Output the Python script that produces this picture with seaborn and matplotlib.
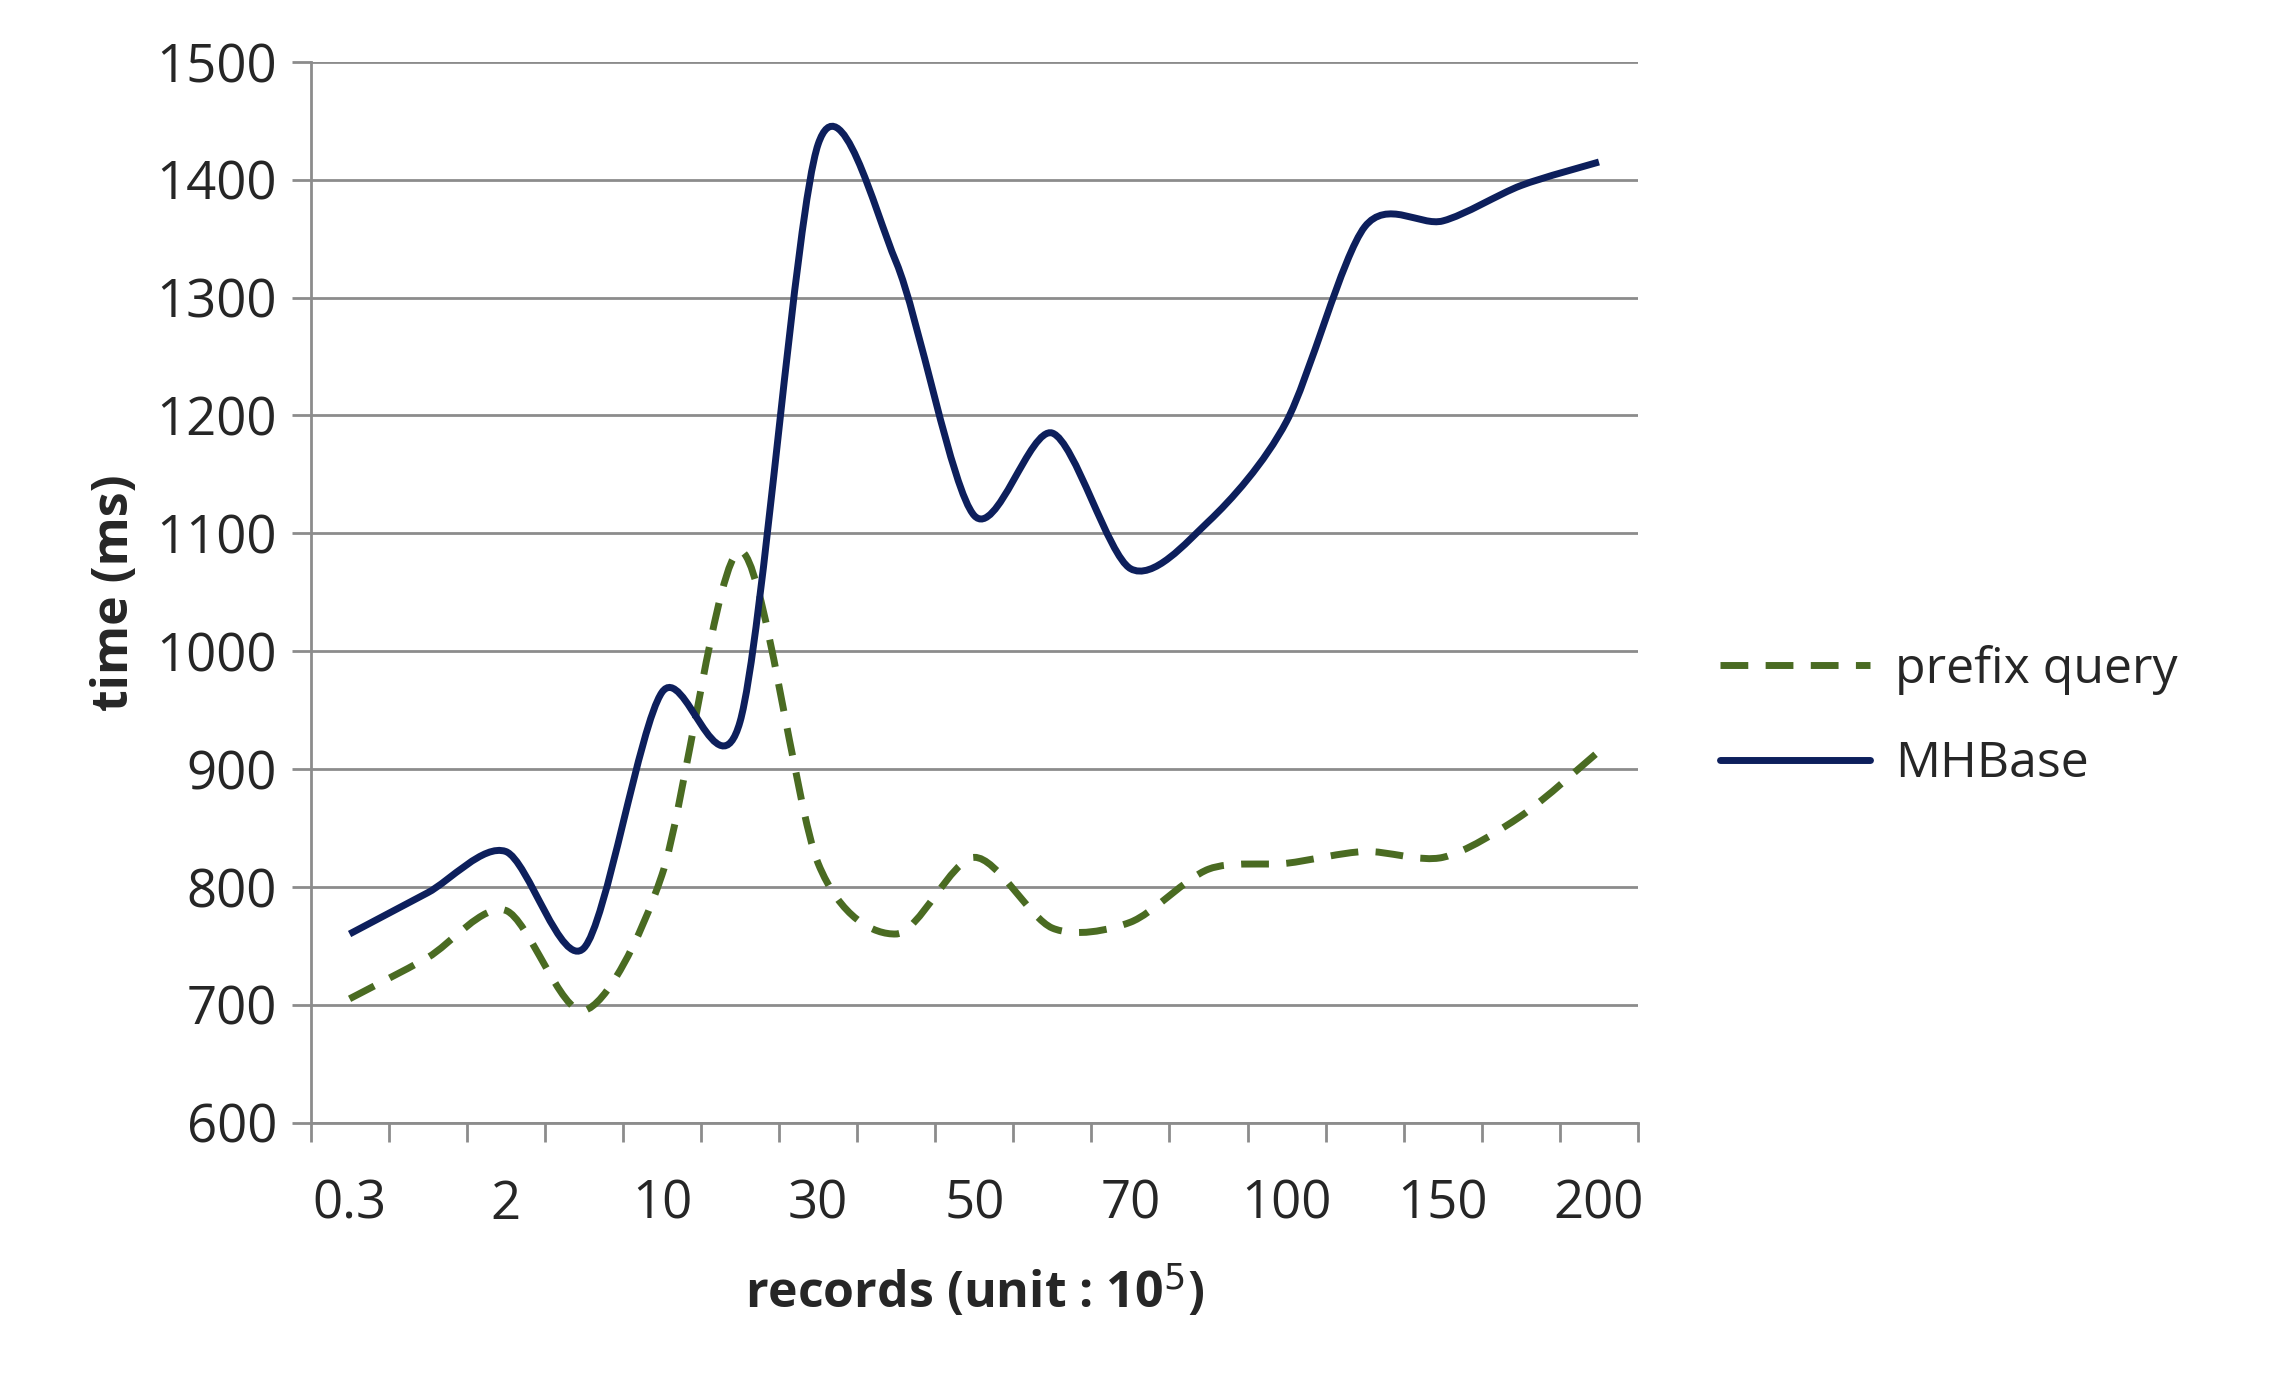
import matplotlib
matplotlib.use("Agg")
import matplotlib.pyplot as plt
import seaborn as sns
import numpy as np
from matplotlib.path import Path
from matplotlib.patches import PathPatch
from matplotlib.lines import Line2D

x_labels = ["0.3", "", "2", "", "10", "", "30", "", "50", "", "70", "", "100", "", "150", "", "200"]
mhbase = [760, 795, 830, 748, 965, 940, 1430, 1330, 1115, 1185, 1070, 1110, 1195, 1360, 1365, 1395, 1415]
prefix = [705, 740, 780, 695, 810, 1085, 820, 760, 825, 765, 770, 815, 820, 830, 825, 860, 915]

BLUE = "#0d1f5c"
GREEN = "#4a6b22"


def smooth_path(xs, ys, t=1 / 7):
    # Catmull-Rom style bezier through the points (like Excel smoothed lines)
    pts = np.column_stack([xs, ys]).astype(float)
    verts = [pts[0]]
    codes = [Path.MOVETO]
    n = len(pts)
    for i in range(n - 1):
        p0 = pts[max(i - 1, 0)]
        p1 = pts[i]
        p2 = pts[i + 1]
        p3 = pts[min(i + 2, n - 1)]
        c1 = p1 + (p2 - p0) * t
        c2 = p2 - (p3 - p1) * t
        verts += [c1, c2, p2]
        codes += [Path.CURVE4] * 3
    return Path(verts, codes)


sns.set_theme(style="white")
plt.rcParams['font.family'] = ['Open Sans', 'DejaVu Sans']

fig = plt.figure(figsize=(22.75, 13.74), dpi=100)
ax = fig.add_axes([0.1365, 0.183, 0.5835, 0.772])
xs = np.arange(len(x_labels))

ax.add_patch(PathPatch(smooth_path(xs, prefix), fill=False, edgecolor=GREEN,
                       lw=5, linestyle=(0, (4, 2.5))))
ax.add_patch(PathPatch(smooth_path(xs, mhbase), fill=False, edgecolor=BLUE, lw=5))

ax.set_xlim(-0.5, len(x_labels) - 0.5)
ax.set_ylim(600, 1500)
ax.set_yticks(range(600, 1501, 100))
ax.yaxis.grid(True, color="#8c8c8c", lw=2)
ax.set_axisbelow(True)

ax.set_xticks(xs)
ax.set_xticklabels(x_labels)
ax.set_xticks(np.arange(-0.5, len(x_labels)), minor=True)
ax.tick_params(axis="x", which="major", length=0, pad=40, labelsize=38)
ax.tick_params(axis="x", which="minor", length=14, width=2, color="#8c8c8c", direction="out")
ax.tick_params(axis="y", length=14, width=2, color="#8c8c8c", direction="out", labelsize=38, pad=10)
ax.tick_params(bottom=True, left=True, which="both")

sns.despine(ax=ax, top=True, right=True)
for s in ("left", "bottom"):
    ax.spines[s].set_color("#8c8c8c")
    ax.spines[s].set_linewidth(2)

ax.set_ylabel("time (ms)", fontsize=36, fontweight="bold", labelpad=12)
ax.set_xlabel("records (unit : 10$^5$)", fontsize=36, fontweight="bold", labelpad=22)

handles = [Line2D([], [], color=GREEN, lw=5, linestyle=(0, (4, 2.5))),
           Line2D([], [], color=BLUE, lw=5)]
fig.legend(handles, ["prefix query", "MHBase"], loc="center left",
           bbox_to_anchor=(0.756, 0.478), frameon=False, fontsize=36,
           handlelength=3.0, labelspacing=0.9, handletextpad=0.5,
           borderpad=0, borderaxespad=0)

fig.savefig("out.png", dpi=100)
